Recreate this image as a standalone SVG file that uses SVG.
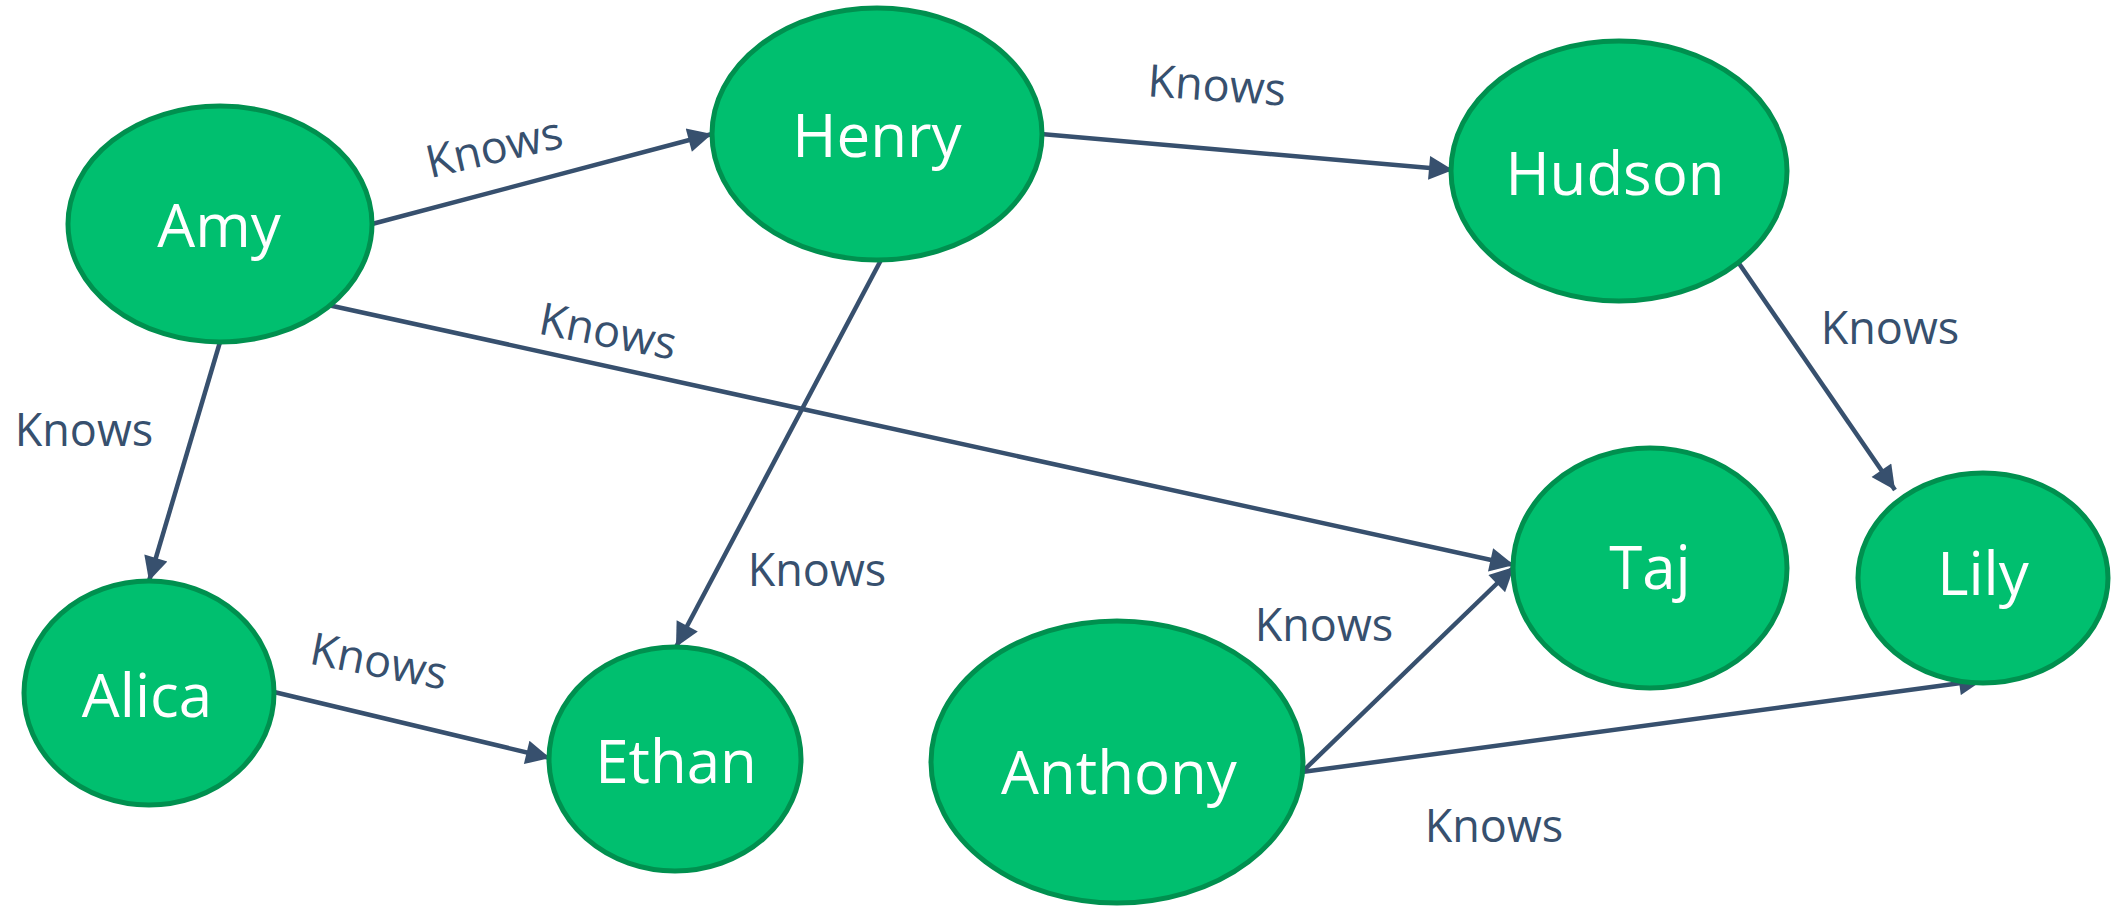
<svg xmlns="http://www.w3.org/2000/svg" width="2123" height="921" viewBox="0 0 2123 921">
<style>
.node{fill:#00BF6F;stroke:#00904F;stroke-width:5}
.nt{font-family:"Open Sans","Noto Sans",sans-serif;font-size:60px;fill:#FFFFFF;text-anchor:middle}
.edge{stroke:#37506E;stroke-width:4.5;fill:none;marker-end:url(#arr)}
.lbl{font-family:"Open Sans","Noto Sans",sans-serif;font-size:45px;fill:#37506E;text-anchor:middle}
</style>
<defs>
<marker id="arr" viewBox="0 0 10 10" markerUnits="userSpaceOnUse" markerWidth="27" markerHeight="24" refX="10" refY="5" orient="auto">
<path d="M0,0 L10,5 L0,10 z" fill="#37506E"/>
</marker>
</defs>
<rect width="2123" height="921" fill="#FFFFFF"/>
<g id="connectors">
<line class="edge" x1="372" y1="224" x2="712" y2="134"/>
<line class="edge" x1="328" y1="305" x2="1514" y2="565"/>
<line class="edge" x1="220" y1="342" x2="149" y2="581"/>
<line class="edge" x1="881" y1="260" x2="676" y2="647"/>
<line class="edge" x1="1041" y1="134" x2="1453" y2="170"/>
<line class="edge" x1="1738" y1="262" x2="1895" y2="490"/>
<line class="edge" x1="274" y1="692" x2="550" y2="758"/>
<line class="edge" x1="1302" y1="772" x2="1514" y2="567"/>
<line class="edge" x1="1302" y1="772" x2="1983" y2="680"/>
<text class="lbl" transform="translate(494,147) rotate(-13)" y="16">Knows</text>
<text class="lbl" transform="translate(608,331) rotate(11)" y="16">Knows</text>
<text class="lbl" x="84" y="446">Knows</text>
<text class="lbl" x="817" y="586">Knows</text>
<text class="lbl" transform="translate(1217,85) rotate(4)" y="16">Knows</text>
<text class="lbl" x="1890" y="344">Knows</text>
<text class="lbl" transform="translate(379,661) rotate(11)" y="16">Knows</text>
<text class="lbl" x="1324" y="641">Knows</text>
<text class="lbl" x="1494" y="842">Knows</text>
</g>
<g id="amy"><ellipse class="node" cx="220" cy="224" rx="152" ry="118"/><text class="nt" x="219" y="247">Amy</text></g>
<g id="henry"><ellipse class="node" cx="877" cy="134" rx="165" ry="126"/><text class="nt" x="877" y="157">Henry</text></g>
<g id="hudson"><ellipse class="node" cx="1619" cy="171" rx="168" ry="130"/><text class="nt" x="1615" y="195">Hudson</text></g>
<g id="alica"><ellipse class="node" cx="149" cy="693" rx="125" ry="112"/><text class="nt" x="147" y="717">Alica</text></g>
<g id="ethan"><ellipse class="node" cx="675" cy="759" rx="126" ry="112"/><text class="nt" x="676" y="783">Ethan</text></g>
<g id="anthony"><ellipse class="node" cx="1117" cy="762" rx="186" ry="141"/><text class="nt" x="1119" y="794">Anthony</text></g>
<g id="taj"><ellipse class="node" cx="1650" cy="568" rx="137" ry="120"/><text class="nt" x="1650" y="589">Taj</text></g>
<g id="lily"><ellipse class="node" cx="1983" cy="578" rx="125" ry="105"/><text class="nt" x="1983" y="595">Lily</text></g>
</svg>
